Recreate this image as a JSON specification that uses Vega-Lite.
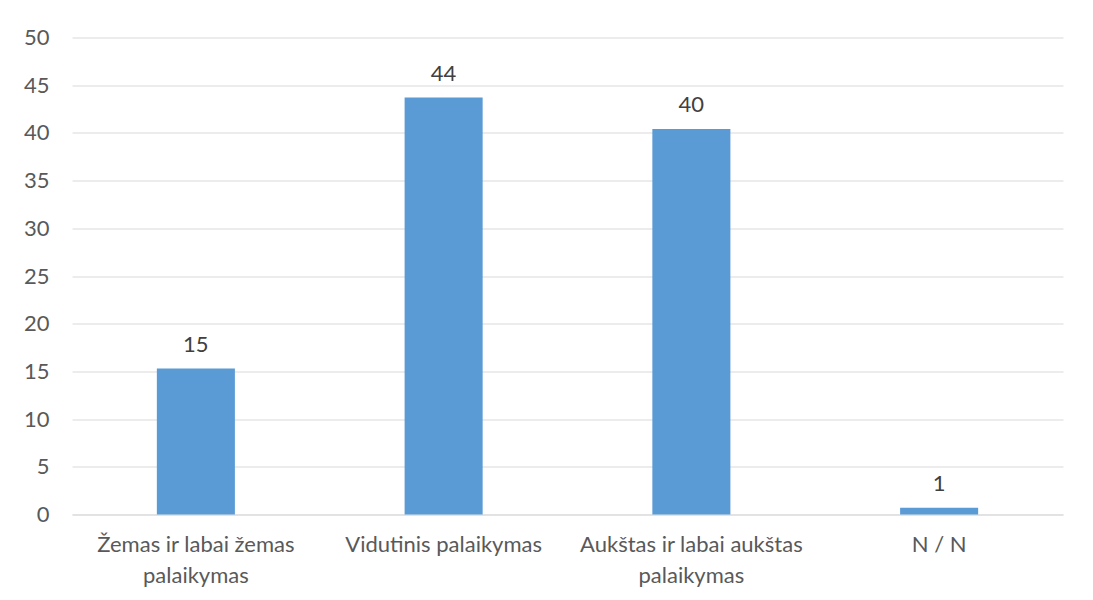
{
  "$schema": "https://vega.github.io/schema/vega-lite/v6.json",
  "autosize": {"type": "none"},
  "width": 991,
  "height": 477,
  "padding": {"left": 72, "top": 37.5, "right": 30, "bottom": 85.5},
  "background": "white",
  "config": {
    "view": {"stroke": null},
    "font": "Lato"
  },
  "data": {
    "values": [
      {"category": "Žemas ir labai žemas palaikymas", "value": 15.3, "label": "15"},
      {"category": "Vidutinis palaikymas", "value": 43.7, "label": "44"},
      {"category": "Aukštas ir labai aukštas palaikymas", "value": 40.4, "label": "40"},
      {"category": "N / N", "value": 0.7, "label": "1"}
    ]
  },
  "encoding": {
    "x": {
      "field": "category",
      "type": "nominal",
      "sort": null,
      "scale": {"paddingInner": 0.685, "paddingOuter": 0.3425},
      "axis": {
        "title": null,
        "labelAngle": 0,
        "labelFont": "Lato",
        "labelFontSize": 22,
        "labelColor": "#595959",
        "labelLineHeight": 31,
        "labelPadding": 20,
        "labelLimit": 400,
        "ticks": false,
        "domainColor": "#D9D9D9",
        "domainWidth": 1,
        "labelExpr": "datum.value == 'Žemas ir labai žemas palaikymas' ? ['Žemas ir labai žemas', 'palaikymas'] : datum.value == 'Aukštas ir labai aukštas palaikymas' ? ['Aukštas ir labai aukštas', 'palaikymas'] : datum.value"
      }
    },
    "y": {
      "field": "value",
      "type": "quantitative",
      "scale": {"domain": [0, 50], "nice": false},
      "axis": {
        "title": null,
        "values": [0, 5, 10, 15, 20, 25, 30, 35, 40, 45, 50],
        "labelFont": "Lato",
        "labelFontSize": 22,
        "labelColor": "#595959",
        "labelPadding": 23,
        "ticks": false,
        "domain": false,
        "grid": true,
        "gridColor": "#D9D9D9",
        "gridWidth": 1
      }
    }
  },
  "layer": [
    {"mark": {"type": "bar", "color": "#5B9BD5"}},
    {
      "mark": {"type": "text", "baseline": "bottom", "dy": -12, "fontSize": 22, "color": "#404040", "font": "Lato"},
      "encoding": {"text": {"field": "label"}}
    }
  ]
}
